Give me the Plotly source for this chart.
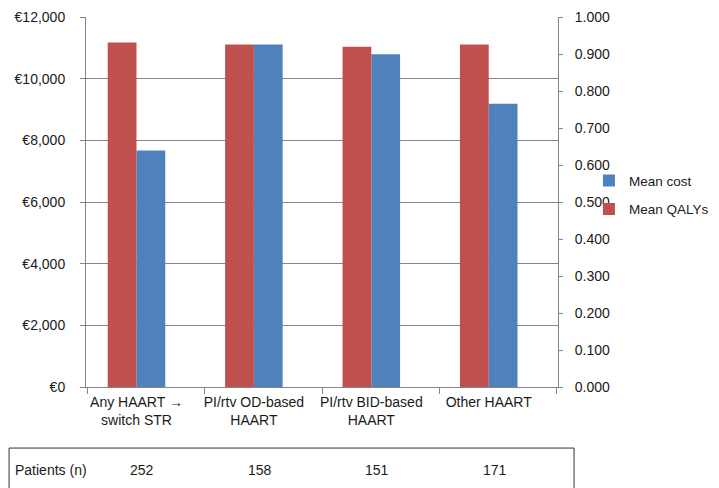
import plotly.graph_objects as go

categories = ["Any HAART \u2192<br>switch STR", "PI/rtv OD-based<br>HAART",
              "PI/rtv BID-based<br>HAART", "Other HAART"]
mean_cost = [7670, 11110, 10790, 9190]
mean_qalys = [0.931, 0.926, 0.920, 0.926]
patients = [252, 158, 151, 171]
cost_ticks = [0, 2000, 4000, 6000, 8000, 10000, 12000]
cost_tick_labels = ["\u20ac0", "\u20ac2,000", "\u20ac4,000", "\u20ac6,000",
                    "\u20ac8,000", "\u20ac10,000", "\u20ac12,000"]
qaly_ticks = [i / 10 for i in range(11)]
qaly_tick_labels = [f"{v:.3f}" for v in qaly_ticks]

FONT = "Liberation Sans, Arial, sans-serif"
TXT = "#1a1a1a"
AX = "#868686"
RED = "#C0504D"
BLUE = "#4F81BD"

xs = list(range(len(categories)))

fig = go.Figure()
fig.add_trace(go.Bar(
    x=xs, y=mean_cost, name="Mean cost", marker_color=BLUE,
    offset=0.0, width=0.245, yaxis="y", legendgroup="a",
    marker_line_width=0,
))
fig.add_trace(go.Bar(
    x=xs, y=mean_qalys, name="Mean QALYs", marker_color=RED,
    offset=-0.245, width=0.245, yaxis="y2", legendgroup="b",
    marker_line_width=0,
))

# Table below chart
fig.add_shape(type="rect", xref="paper", yref="paper",
              x0=-0.163, x1=1.034, y0=-0.165, y1=-0.285,
              line=dict(color="#333333", width=1), layer="above")
fig.add_annotation(text="Patients (n)", xref="paper", yref="paper",
                   x=-0.155, y=-0.224, xanchor="left", yanchor="middle",
                   showarrow=False, font=dict(family=FONT, size=14, color=TXT))
for i, n in enumerate(patients):
    fig.add_annotation(text=str(n), xref="x", yref="paper",
                       x=i + 0.05, y=-0.224, xanchor="center", yanchor="middle",
                       showarrow=False, font=dict(family=FONT, size=14, color=TXT))

fig.update_layout(
    width=719, height=488,
    margin=dict(l=78, r=169, t=9, b=109, autoexpand=False),
    paper_bgcolor="white", plot_bgcolor="white",
    barmode="overlay",
    font=dict(family=FONT, size=14, color=TXT),
    xaxis=dict(
        range=[-0.43, 3.59], tickvals=xs, ticktext=categories,
        ticks="", showgrid=False, zeroline=False, automargin=False,
        showline=True, linecolor=AX, linewidth=1,
        ticklabelstandoff=2,
        minor=dict(tick0=-0.42, dtick=1, ticks="outside", ticklen=6,
                   tickcolor=AX, showgrid=False),
    ),
    yaxis=dict(
        range=[0, 12001], tickvals=cost_ticks, ticktext=cost_tick_labels,
        showgrid=True, gridcolor=AX, gridwidth=1, zeroline=False,
        showline=True, linecolor=AX, linewidth=1, automargin=False,
        ticks="outside", ticklen=5, tickcolor=AX, ticklabelstandoff=12,
        ticklabeloverflow="allow",
    ),
    yaxis2=dict(
        range=[0, 1.0001], tickvals=qaly_ticks, ticktext=qaly_tick_labels,
        overlaying="y", side="right", showgrid=False, zeroline=False,
        showline=True, linecolor=AX, linewidth=1, automargin=False,
        ticks="outside", ticklen=4, tickcolor=AX, ticklabelstandoff=9,
        ticklabeloverflow="allow",
    ),
    legend=dict(
        xref="container", yref="container",
        x=0.808, y=0.678, xanchor="left", yanchor="top",
        font=dict(family=FONT, size=13.5, color=TXT),
        traceorder="grouped", tracegroupgap=8, bgcolor="rgba(0,0,0,0)",
        itemwidth=30,
    ),
    showlegend=True,
)

fig.write_html("out.html")
